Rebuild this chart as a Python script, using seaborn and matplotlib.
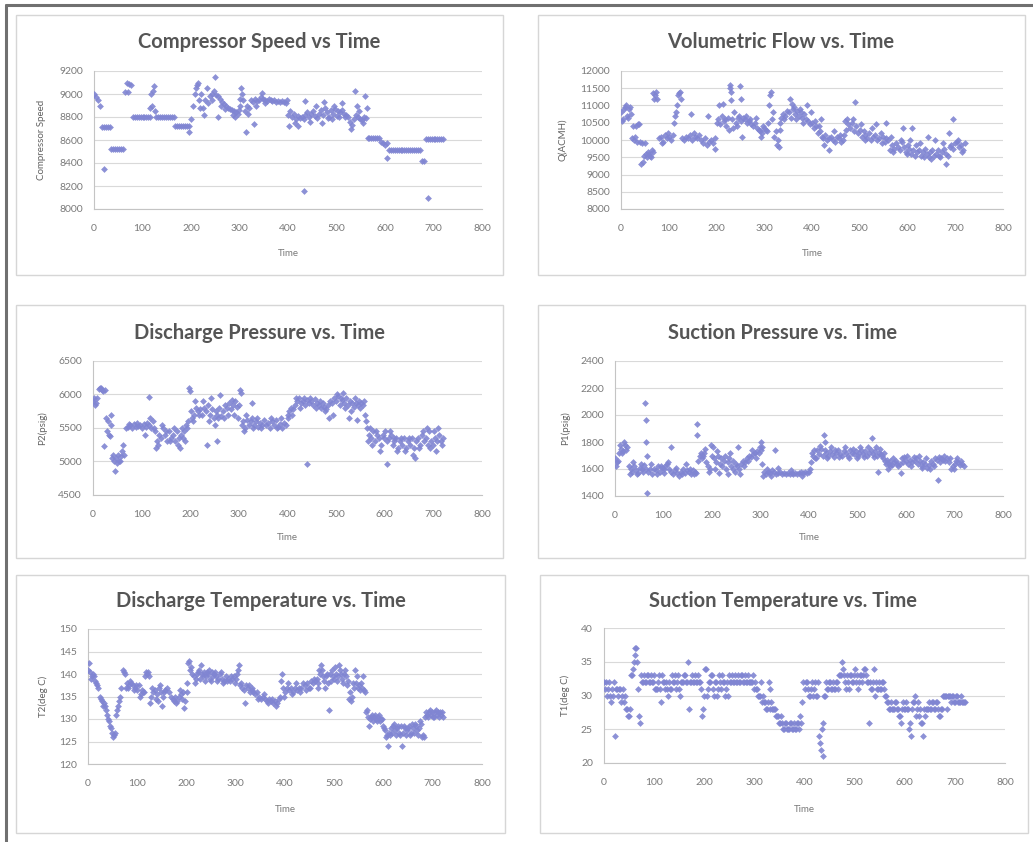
import numpy as np
import pandas as pd
import matplotlib
matplotlib.use("Agg")
import matplotlib.pyplot as plt
import seaborn as sns
from matplotlib.patches import Rectangle
from matplotlib.lines import Line2D

sns.set_theme(style="white")
plt.rcParams['font.family'] = ['Lato', 'DejaVu Sans']

# ---------------- data ----------------
TIME = list(range(0, 724, 4))

SPEED = [
    9000, 8970, 8950, 8900, 8710, 8710, 8710, 8710, 8710, 8520,
    8520, 8520, 8520, 8520, 8520, 8520, 9020, 9100, 9090, 9080,
    8800, 8800, 8800, 8800, 8800, 8800, 8800, 8800, 8800, 8800,
    8900, 9070, 8800, 8800, 8800, 8800, 8800, 8800, 8800, 8800,
    8800, 8800, 8720, 8720, 8720, 8720, 8720, 8720, 8720, 8720,
    8780, 8900, 9000, 9080, 8950, 9000, 8880, 8950, 9050, 8920,
    8980, 9000, 9030, 8990, 8980, 8960, 8930, 8910, 8900, 8880,
    8870, 8860, 8850, 8840, 8830, 8900, 9050, 8950, 8850, 8900,
    8880, 8950, 8930, 8960, 8940, 8950, 8970, 8960, 8950, 8940,
    8960, 8950, 8940, 8950, 8930, 8940, 8930, 8940, 8930, 8920,
    8820, 8850, 8800, 8830, 8780, 8810, 8790, 8800, 8780, 8820,
    8840, 8800, 8830, 8850, 8810, 8790, 8830, 8860, 8820, 8880,
    8840, 8800, 8860, 8830, 8870, 8810, 8850, 8840, 8860, 8830,
    8820, 8800, 8760, 8730, 8780, 8820, 8800, 8780, 8770, 8800,
    8790, 8620, 8620, 8620, 8620, 8620, 8620, 8620, 8580, 8570,
    8560, 8570, 8510, 8510, 8510, 8510, 8510, 8510, 8510, 8510,
    8510, 8510, 8510, 8510, 8510, 8510, 8510, 8510, 8510, 8420,
    8420, 8610, 8610, 8610, 8610, 8610, 8610, 8610, 8610, 8610,
    8610]
SPEED_EXTRA = [
    (20, 8350), (70, 9020), (116, 8880), (118, 9000), (122, 9030), (126, 8850),
    (196, 8670), (210, 9050), (214, 9100), (218, 8880), (226, 8820), (244, 8950),
    (250, 9150), (256, 8800), (262, 8900), (270, 8870), (286, 8820), (290, 8800),
    (298, 8860), (302, 8960), (306, 9000), (313, 8670), (318, 8830), (330, 8740),
    (334, 8900), (346, 9010), (352, 8920), (398, 8950), (402, 8720), (414, 8750),
    (420, 8720), (433, 8160), (436, 8940), (446, 8760), (458, 8900), (470, 8750),
    (474, 8930), (482, 8790), (490, 8780), (494, 8900), (506, 8800), (512, 8920),
    (518, 8800), (530, 8700), (538, 9030), (542, 8900), (546, 8850), (554, 8750),
    (558, 8980), (562, 8880), (605, 8440), (688, 8100)]

FLOW = [
    10800, 10600, 10950, 10700, 10900, 10750, 10050, 10000, 10400, 10450,
    9950, 9900, 9550, 9600, 9650, 9550, 9700, 11350, 11300, 11200,
    10050, 10100, 9950, 10150, 10050, 10100, 10000, 10150, 10500, 10800,
    11300, 11400, 10050, 10000, 10100, 10050, 10150, 10000, 10200, 10100,
    10050, 10150, 10000, 9900, 10050, 9850, 9950, 10000, 9900, 10050,
    10500, 10600, 10450, 10700, 10550, 10400, 10650, 11500, 10600, 10800,
    10500, 10650, 10700, 10550, 10650, 10600, 10500, 10550, 10450, 10400,
    10500, 10350, 10300, 10250, 10200, 10350, 10300, 10500, 11300, 10600,
    10100, 10250, 10000, 10300, 10650, 10750, 10700, 10850, 10800, 10650,
    10900, 10750, 10850, 10700, 10800, 10650, 10750, 10600, 10550, 10450,
    10500, 10350, 10400, 10200, 10250, 10100, 10050, 10150, 10000, 10050,
    10100, 10000, 9950, 10100, 10050, 9950, 10000, 10150, 10300, 10450,
    10350, 10500, 10250, 10400, 10200, 10300, 10100, 10250, 10150, 10050,
    10200, 10000, 10100, 10150, 10000, 10050, 10200, 10100, 9950, 10050,
    10000, 9700, 9850, 9750, 9900, 9800, 9700, 9950, 9800, 9650,
    9850, 9750, 9600, 9700, 9550, 9650, 9700, 9550, 9650, 9750,
    9600, 9500, 9650, 9700, 9550, 9600, 9700, 9500, 9650, 9750,
    9600, 9550, 9800, 9850, 9750, 9900, 9950, 9800, 9850, 9700,
    9900]
FLOW_EXTRA = [
    (2, 10550), (6, 10900), (10, 11000), (14, 10650), (18, 10950), (26, 10400),
    (30, 10100), (34, 9950), (38, 10450), (42, 9300), (46, 9350), (50, 9900),
    (54, 9500), (58, 9600), (62, 9500), (66, 9650), (70, 11200), (74, 11400),
    (86, 9900), (98, 10200), (114, 10700), (118, 11000), (122, 11350), (126, 11200),
    (146, 10750), (182, 10700), (196, 9750), (206, 11000), (214, 11050), (218, 10600),
    (226, 10300), (229, 11600), (230, 11400), (231, 11150), (234, 10350), (242, 10400),
    (250, 11560), (252, 11200), (254, 10100), (262, 10700), (270, 10600), (282, 10650),
    (294, 10100), (298, 10400), (306, 10250), (310, 11000), (314, 11400), (318, 10800),
    (326, 9850), (330, 9800), (334, 10500), (342, 10600), (354, 11200), (358, 11050),
    (362, 10950), (366, 10600), (374, 10900), (382, 10500), (390, 11000), (398, 10800),
    (406, 10550), (414, 10400), (418, 10600), (426, 9850), (435, 9700), (446, 10250),
    (458, 10150), (470, 10550), (474, 10600), (486, 10600), (491, 11100), (502, 10450),
    (510, 10000), (526, 10350), (534, 10450), (546, 9900), (554, 10500), (566, 10100),
    (570, 9650), (586, 10000), (590, 10350), (598, 9600), (606, 10000), (610, 10350),
    (618, 9850), (626, 9900), (634, 9500), (642, 10100), (650, 9450), (658, 10000),
    (666, 9550), (674, 9900), (681, 9300), (686, 10200), (695, 10600), (706, 10000),
    (714, 9650)]

P2 = [
    5900, 5850, 5950, 6080, 6100, 6050, 6070, 5450, 5400, 5550,
    5050, 5000, 5050, 5100, 5000, 5150, 5100, 5500, 5520, 5540,
    5500, 5560, 5520, 5530, 5550, 5500, 5560, 5520, 5580, 5540,
    5500, 5600, 5450, 5300, 5400, 5350, 5500, 5400, 5300, 5450,
    5350, 5400, 5300, 5450, 5350, 5400, 5500, 5450, 5550, 5600,
    6050, 5650, 5700, 5800, 5750, 5780, 5700, 5800, 5750, 5850,
    5700, 5780, 5650, 5750, 5700, 5800, 5680, 5750, 5850, 5800,
    5880, 5780, 5850, 5900, 5820, 5850, 6020, 5600, 5500, 5620,
    5550, 5600, 5650, 5550, 5600, 5520, 5580, 5550, 5620, 5540,
    5580, 5500, 5600, 5550, 5620, 5520, 5560, 5500, 5580, 5550,
    5700, 5750, 5800, 5780, 5850, 5900, 5950, 5880, 5900, 5850,
    5920, 5870, 5900, 5850, 5930, 5880, 5850, 5800, 5870, 5820,
    5780, 5850, 5900, 5880, 5950, 5900, 5980, 5850, 5920, 5880,
    5950, 5850, 5900, 5870, 5820, 5880, 5850, 5900, 5870, 5850,
    5700, 5500, 5400, 5350, 5450, 5300, 5400, 5350, 5250, 5400,
    5450, 5300, 5350, 5400, 5250, 5300, 5350, 5200, 5300, 5250,
    5350, 5200, 5300, 5250, 5350, 5200, 5300, 5350, 5250, 5400,
    5300, 5350, 5250, 5450, 5300, 5250, 5350, 5300, 5400, 5300,
    5350]
P2_EXTRA = [
    (2, 5950), (6, 5880), (14, 6100), (18, 6060), (22, 5230), (26, 5650), (30, 5600),
    (34, 5380), (38, 5700), (42, 5100), (45, 4860), (50, 4980), (54, 5000), (58, 5080),
    (62, 5250), (74, 5560), (90, 5580), (106, 5400), (115, 5960), (118, 5650),
    (126, 5500), (130, 5200), (134, 5250), (142, 5550), (150, 5450), (158, 5300),
    (166, 5500), (174, 5250), (178, 5200), (186, 5350), (190, 5300), (194, 5500),
    (198, 6100), (202, 5750), (206, 5600), (210, 5900), (218, 5700), (226, 5900),
    (234, 5250), (238, 5600), (242, 5950), (250, 5550), (254, 5300), (258, 5650),
    (262, 5990), (270, 5650), (278, 5700), (286, 5920), (290, 5700), (298, 5650),
    (302, 6060), (306, 5550), (310, 5450), (314, 5700), (326, 5880), (330, 5500),
    (338, 5650), (346, 5500), (366, 5650), (378, 5500), (386, 5650), (402, 5650),
    (410, 5700), (418, 5950), (426, 5800), (434, 5950), (440, 4970), (446, 5950),
    (458, 5800), (466, 5900), (478, 5750), (486, 5650), (494, 5700), (502, 6000),
    (510, 5950), (514, 6020), (518, 5800), (526, 5650), (530, 5750), (538, 5950),
    (542, 5620), (550, 5800), (558, 5900), (562, 5600), (566, 5300), (570, 5500),
    (574, 5250), (582, 5450), (590, 5150), (598, 5350), (605, 4960), (610, 5450),
    (618, 5350), (626, 5150), (634, 5350), (642, 5150), (650, 5350), (658, 5100),
    (662, 5050), (670, 5200), (678, 5450), (686, 5500), (694, 5200), (702, 5450),
    (706, 5150), (710, 5500), (718, 5250)]

P1 = [
    1680, 1650, 1720, 1750, 1730, 1780, 1760, 1620, 1600, 1580,
    1620, 1590, 1570, 1610, 1600, 1630, 1600, 1580, 1600, 1560,
    1600, 1590, 1620, 1580, 1610, 1600, 1620, 1640, 1600, 1580,
    1560, 1590, 1570, 1550, 1580, 1600, 1570, 1590, 1580, 1560,
    1590, 1580, 1570, 1660, 1700, 1680, 1720, 1650, 1620, 1600,
    1700, 1680, 1650, 1700, 1640, 1620, 1660, 1600, 1650, 1680,
    1620, 1600, 1580, 1620, 1600, 1640, 1660, 1650, 1680, 1700,
    1690, 1710, 1720, 1730, 1720, 1740, 1760, 1580, 1560, 1580,
    1570, 1590, 1580, 1560, 1570, 1580, 1560, 1570, 1560, 1570,
    1560, 1570, 1560, 1570, 1560, 1570, 1580, 1570, 1580, 1570,
    1580, 1650, 1700, 1680, 1740, 1710, 1750, 1700, 1740, 1720,
    1700, 1730, 1710, 1690, 1720, 1740, 1710, 1700, 1730, 1720,
    1700, 1740, 1720, 1710, 1730, 1700, 1720, 1740, 1710, 1730,
    1700, 1720, 1740, 1710, 1730, 1700, 1720, 1710, 1680, 1660,
    1670, 1640, 1660, 1630, 1650, 1660, 1620, 1640, 1680, 1690,
    1660, 1640, 1670, 1650, 1690, 1680, 1640, 1660, 1620, 1650,
    1640, 1610, 1630, 1660, 1640, 1680, 1670, 1690, 1680, 1670,
    1660, 1680, 1650, 1600, 1620, 1640, 1660, 1650, 1630, 1640,
    1620]
P1_EXTRA = [
    (2, 1620), (6, 1660), (10, 1780), (14, 1720), (18, 1800), (22, 1740), (30, 1560),
    (38, 1650), (46, 1560), (54, 1640), (58, 1580), (62, 2090), (63, 1960), (64, 1800),
    (65, 1420), (66, 1700), (74, 1640), (86, 1560), (94, 1620), (102, 1570),
    (110, 1650), (115, 1760), (126, 1610), (138, 1560), (146, 1640), (154, 1600),
    (162, 1560), (169, 1930), (170, 1850), (178, 1720), (182, 1700), (186, 1750),
    (194, 1580), (198, 1780), (202, 1760), (206, 1600), (210, 1730), (214, 1570),
    (218, 1680), (226, 1700), (234, 1560), (238, 1720), (244, 1660), (250, 1640),
    (254, 1760), (258, 1560), (266, 1620), (274, 1660), (282, 1740), (290, 1680),
    (298, 1760), (302, 1800), (303, 1640), (306, 1550), (314, 1600), (322, 1550),
    (330, 1740), (336, 1610), (362, 1590), (386, 1550), (402, 1600), (406, 1720),
    (410, 1740), (414, 1680), (422, 1770), (430, 1850), (432, 1800), (438, 1680),
    (446, 1760), (454, 1740), (462, 1690), (474, 1760), (482, 1680), (490, 1750),
    (498, 1680), (506, 1760), (514, 1690), (522, 1760), (530, 1830), (534, 1690),
    (538, 1760), (543, 1580), (546, 1750), (550, 1700), (554, 1720), (558, 1640),
    (562, 1600), (566, 1620), (574, 1680), (582, 1640), (590, 1570), (594, 1650),
    (602, 1700), (610, 1620), (618, 1660), (626, 1700), (634, 1610), (642, 1680),
    (650, 1600), (658, 1620), (665, 1520), (670, 1650), (678, 1700), (690, 1680),
    (698, 1600), (706, 1680), (714, 1660)]

T2 = [
    141, 140.5, 139.5, 139.5, 138, 137, 135, 134, 133.5, 132,
    130, 128.5, 127, 126.5, 131, 133, 135, 137, 141, 140,
    138, 137.5, 138, 137.5, 137, 136.5, 137.5, 135.5, 136, 139.5,
    140, 139.5, 135, 136, 136.5, 135.5, 137, 136, 135, 136.5,
    137, 136, 135, 134.5, 135, 134, 135, 135.5, 136, 134,
    136, 142.5, 141, 140, 139.5, 139, 140.5, 139, 140, 140.5,
    139.5, 140, 139, 140.5, 140, 139.5, 139, 140, 139, 138.5,
    139.5, 139, 138.5, 139, 139.5, 139, 141, 137.5, 137, 136.5,
    137.5, 137, 136, 136.5, 136, 135.5, 136, 135, 134.5, 135,
    134.5, 134, 134.5, 134, 133.5, 134, 133.5, 134.5, 138.5, 137,
    136, 137, 136.5, 137, 136, 137, 136.5, 137, 137, 138,
    137.5, 138, 137, 138.5, 138, 138.5, 139, 138, 140, 141,
    138.5, 139.5, 138, 140, 141, 139, 140, 139.5, 141, 139,
    140, 139.5, 138.5, 136, 135, 137, 138, 137, 136.5, 137,
    136.5, 131.5, 130.5, 130, 131, 130.5, 130, 130.5, 129.5, 130,
    128, 127.5, 126.5, 127, 128, 128.5, 127.5, 128, 127, 128.5,
    127, 128, 127.5, 128.5, 127, 128, 129, 127.5, 128, 129,
    126.5, 130.5, 131, 131.5, 131, 130.5, 131.5, 131, 130.5, 131,
    130.5]
T2_EXTRA = [
    (2, 142.5), (6, 139), (10, 140), (14, 138.5), (18, 137.5), (26, 134.5), (30, 133),
    (34, 133), (38, 131), (42, 129.5), (46, 128), (50, 126), (54, 127), (58, 132),
    (62, 134), (74, 140.5), (78, 137), (82, 137), (86, 138.5), (94, 136.5),
    (98, 137.5), (106, 135), (110, 136.5), (114, 136), (118, 140.5), (122, 140.5),
    (126, 133.5), (130, 137), (138, 134.5), (142, 134), (146, 137.5), (150, 133),
    (154, 136), (174, 134), (178, 133.5), (186, 136.5), (190, 134.5), (194, 132.5),
    (202, 138), (206, 143), (210, 141.5), (218, 138), (222, 140), (226, 141),
    (230, 142), (234, 139.5), (238, 138.5), (242, 140.5), (246, 141), (250, 138.5),
    (254, 139.5), (258, 140.5), (262, 138.5), (270, 140.5), (274, 138), (282, 138.5),
    (290, 139.5), (298, 138), (302, 140), (306, 142), (310, 138), (318, 133.5),
    (326, 137.5), (334, 137), (346, 134.5), (358, 135.5), (366, 133.5), (374, 134.5),
    (382, 133), (390, 135), (394, 140), (398, 135), (406, 138), (414, 135.5),
    (422, 138), (430, 136), (442, 136.5), (450, 137), (458, 139), (466, 137),
    (470, 141), (474, 142), (478, 139.5), (482, 137), (486, 140), (490, 132),
    (494, 138.5), (498, 139.5), (502, 141.5), (506, 138.5), (510, 142), (514, 140),
    (518, 138), (522, 141), (526, 137.5), (530, 134.5), (534, 134), (538, 138),
    (542, 141), (546, 139.5), (550, 137.5), (554, 138), (558, 139.5), (562, 136),
    (566, 132), (570, 128.5), (574, 130.5), (578, 129.5), (582, 131), (586, 129.5),
    (590, 131), (594, 130), (598, 128.5), (606, 126), (610, 124), (614, 126.5),
    (618, 127), (622, 129), (626, 126.5), (630, 128.5), (634, 126.5), (638, 124),
    (642, 128.5), (646, 126.5), (650, 128), (654, 126.5), (658, 129), (662, 127),
    (666, 128.5), (670, 126.5), (674, 129.5), (678, 126), (682, 126), (686, 131.5),
    (690, 130.5), (694, 132), (698, 131.5), (702, 130.5), (706, 132), (710, 131.5),
    (714, 131.5), (718, 131.5)]

T1 = [
    32, 32, 31, 30, 31, 32, 31, 30, 31, 30,
    29, 28, 27, 28, 33, 35, 37, 31, 26, 32,
    33, 32, 33, 32, 32, 33, 31, 32, 31, 33,
    32, 32, 30, 31, 33, 32, 31, 33, 30, 32,
    33, 32, 35, 32, 33, 32, 32, 33, 32, 27,
    30, 34, 31, 32, 33, 30, 32, 31, 32, 33,
    32, 31, 30, 32, 33, 32, 32, 33, 32, 33,
    32, 32, 33, 32, 32, 31, 31, 30, 30, 29,
    29, 28, 29, 28, 28, 28, 27, 27, 26, 26,
    25, 26, 25, 26, 25, 26, 25, 26, 27, 29,
    31, 32, 30, 31, 30, 32, 30, 24, 22, 21,
    30, 31, 32, 31, 32, 31, 32, 33, 33, 34,
    32, 33, 31, 33, 32, 34, 33, 32, 33, 33,
    34, 32, 26, 31, 32, 30, 31, 32, 31, 32,
    30, 29, 28, 29, 28, 29, 28, 27, 26, 29,
    28, 28, 25, 24, 29, 30, 28, 27, 26, 24,
    27, 28, 29, 28, 29, 28, 29, 27, 28, 30,
    30, 28, 30, 29, 30, 29, 30, 29, 30, 29,
    29]
T1_EXTRA = [
    (2, 31), (6, 30), (10, 32), (14, 29), (18, 30), (22, 24), (26, 31), (30, 31),
    (34, 29), (38, 31), (42, 30), (46, 28), (50, 27), (54, 33), (58, 34), (61, 36),
    (62, 37), (66, 35), (70, 27), (74, 33), (78, 32), (82, 32), (86, 33), (90, 32),
    (94, 33), (98, 32), (102, 31), (106, 31), (110, 33), (114, 29), (118, 32),
    (122, 31), (126, 31), (130, 32), (134, 31), (138, 32), (142, 33), (146, 32),
    (150, 31), (154, 32), (158, 32), (162, 33), (166, 32), (170, 28), (174, 32),
    (178, 32), (182, 33), (186, 32), (190, 32), (194, 31), (198, 28), (202, 34),
    (206, 30), (210, 32), (214, 33), (218, 31), (222, 32), (226, 30), (230, 33),
    (234, 31), (238, 32), (242, 30), (246, 32), (250, 33), (254, 32), (258, 32),
    (262, 33), (266, 32), (270, 32), (274, 33), (278, 32), (282, 33), (286, 32),
    (290, 32), (294, 32), (298, 33), (302, 32), (306, 31), (310, 30), (314, 32),
    (318, 30), (322, 29), (326, 28), (330, 32), (331, 31), (334, 29), (338, 28),
    (342, 28), (346, 27), (350, 26), (354, 27), (358, 25), (362, 26), (366, 25),
    (370, 25), (374, 26), (378, 25), (382, 25), (386, 26), (390, 25), (394, 26),
    (398, 32), (402, 32), (406, 31), (410, 30), (414, 32), (418, 31), (422, 30),
    (426, 32), (430, 23), (434, 25), (436, 26), (438, 30), (442, 32), (446, 31),
    (450, 32), (454, 31), (458, 31), (462, 32), (466, 31), (470, 33), (474, 35),
    (478, 33), (482, 31), (486, 32), (490, 33), (494, 32), (498, 33), (502, 32),
    (506, 31), (510, 33), (514, 32), (518, 34), (522, 33), (526, 32), (530, 32),
    (534, 31), (538, 34), (542, 32), (546, 31), (550, 31), (554, 32), (558, 31),
    (562, 30), (566, 29), (570, 28), (574, 28), (578, 28), (582, 29), (586, 28),
    (590, 27), (594, 28), (598, 28), (602, 29), (606, 28), (610, 26), (614, 28),
    (618, 29), (622, 27), (626, 29), (630, 28), (634, 26), (638, 28), (642, 28),
    (646, 28), (650, 28), (654, 29), (658, 28), (662, 29), (666, 28), (670, 27),
    (674, 28), (678, 30), (682, 30), (686, 30), (690, 30), (694, 30), (698, 29),
    (702, 30), (706, 29), (710, 29), (714, 29), (718, 29)]

TITLES = ["Compressor Speed vs Time", "Volumetric Flow vs. Time",
          "Discharge Pressure vs. Time", "Suction Pressure vs. Time",
          "Discharge Temperature vs. Time", "Suction Temperature vs. Time"]
YLABELS = ["Compressor Speed", "Q(ACMH)", "P2(psig)", "P1(psig)",
           "T2(deg C)", "T1(deg C)"]
XLABEL = "Time"
XTICKS = [0, 100, 200, 300, 400, 500, 600, 700, 800]
YTICKS = [
    [8000, 8200, 8400, 8600, 8800, 9000, 9200],
    [8000, 8500, 9000, 9500, 10000, 10500, 11000, 11500, 12000],
    [4500, 5000, 5500, 6000, 6500],
    [1400, 1600, 1800, 2000, 2200, 2400],
    [120, 125, 130, 135, 140, 145, 150],
    [20, 25, 30, 35, 40],
]
SERIES = [(SPEED, SPEED_EXTRA), (FLOW, FLOW_EXTRA), (P2, P2_EXTRA),
          (P1, P1_EXTRA), (T2, T2_EXTRA), (T1, T1_EXTRA)]

# ---------------- layout (pixels of a 1033 x 842 canvas) ----------------
W, H = 1033, 842
PLOT_PX = [(94, 71, 482, 209), (621, 71, 1003, 209),
           (93, 361, 482, 495), (615, 361, 1003, 496),
           (88, 629, 482, 764), (604, 628, 1005, 763)]
BOX_PX = [(16, 15, 503, 275), (538, 15, 1025, 275),
          (16, 305, 503, 558), (538, 305, 1025, 558),
          (16, 575, 505, 833), (540, 575, 1028, 833)]
TITLE_PX = [(259, 42), (781, 42), (260, 333), (783, 333), (261, 601), (783, 601)]
YLAB_X = [42, 563, 42, 565, 43, 565]
XLAB_Y = [253, 253, 538, 538, 810, 810]

MARK = '#8085d2'
TXT = '#7a7a7a'

fig = plt.figure(figsize=(W / 100, H / 100), dpi=100)
fig.patch.set_facecolor('white')

# outer scan frame
fig.add_artist(Line2D([6 / W, 1.0], [1 - 5 / H, 1 - 5 / H], transform=fig.transFigure,
                      color='#707070', lw=2.2))
fig.add_artist(Line2D([6 / W, 6 / W], [1 - 5 / H, 0.0], transform=fig.transFigure,
                      color='#707070', lw=2.2))

for i in range(6):
    main, extra = SERIES[i]
    assert len(main) == len(TIME)
    df = pd.DataFrame({'t': TIME + [p[0] for p in extra],
                       'v': list(main) + [p[1] for p in extra]})
    bx0, by0, bx1, by1 = BOX_PX[i]
    fig.add_artist(Rectangle((bx0 / W, 1 - by1 / H), (bx1 - bx0) / W, (by1 - by0) / H,
                             transform=fig.transFigure, fill=False,
                             edgecolor='#d6d6d6', lw=1.0))
    x0, y0, x1, y1 = PLOT_PX[i]
    ax = fig.add_axes([x0 / W, 1 - y1 / H, (x1 - x0) / W, (y1 - y0) / H])
    ax.set_facecolor('none')
    sns.scatterplot(data=df, x='t', y='v', ax=ax, marker='D', s=12,
                    color=MARK, linewidth=0, alpha=0.9, legend=False, zorder=3)
    yt = YTICKS[i]
    ax.set_xlim(0, 800)
    ax.set_ylim(yt[0], yt[-1])
    ax.set_xticks(XTICKS)
    ax.set_yticks(yt)
    ax.set_xticklabels([str(v) for v in XTICKS])
    ax.set_yticklabels([str(v) for v in yt])
    ax.yaxis.grid(True, color='#d9d9d9', lw=0.8)
    ax.xaxis.grid(False)
    ax.set_axisbelow(True)
    for s in ['top', 'right']:
        ax.spines[s].set_visible(False)
    for s in ['left', 'bottom']:
        ax.spines[s].set_color('#c4c4c4')
        ax.spines[s].set_linewidth(0.8)
    ax.tick_params(axis='x', length=3, width=0.8, color='#c4c4c4', pad=7.5,
                   labelsize=7.5, labelcolor=TXT)
    ax.tick_params(axis='y', length=3, width=0.8, color='#c4c4c4', pad=5,
                   labelsize=7.5, labelcolor=TXT)
    ax.set_xlabel(XLABEL, fontsize=7, color=TXT, va='center')
    ax.set_ylabel(YLABELS[i], fontsize=7, color='#606060', va='center')
    ax.xaxis.set_label_coords(0.5, (y1 - XLAB_Y[i]) / (y1 - y0))
    ax.yaxis.set_label_coords((YLAB_X[i] - x0) / (x1 - x0), 0.5)
    tx, ty = TITLE_PX[i]
    fig.text(tx / W, 1 - ty / H, TITLES[i], ha='center', va='center',
             fontsize=14.5, fontweight='bold', color='#555555')

fig.savefig('out.png', dpi=100, facecolor='white')
